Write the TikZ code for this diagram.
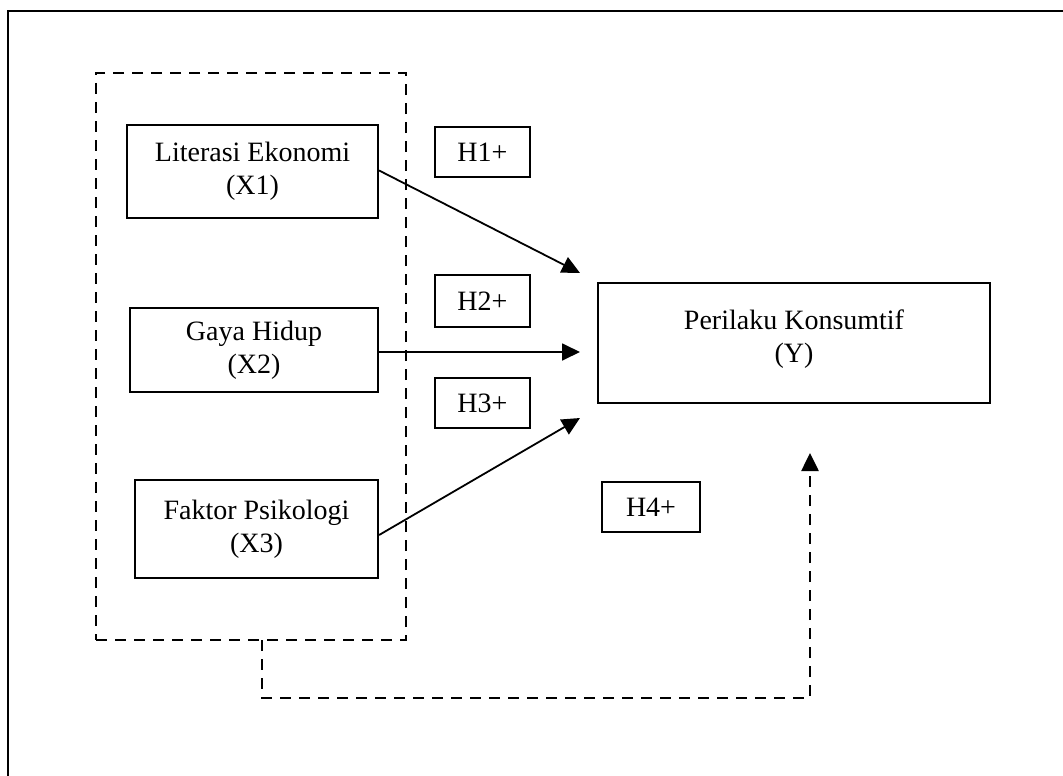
\documentclass[tikz,border=0pt]{standalone}
\usepackage{fontspec}
\setmainfont{Liberation Serif}
\usetikzlibrary{arrows.meta,calc}
\begin{document}
\begin{tikzpicture}[x=1pt,y=-1pt,
  box/.style={draw,line width=2.2pt,align=center,inner sep=0pt,font=\fontsize{28}{33}\selectfont},
  hbox/.style={draw,line width=2pt,inner sep=0pt,font=\fontsize{28}{33}\selectfont},
  grpbox/.style={draw,line width=2.6pt,dash pattern=on 11pt off 8pt,inner sep=0pt},
  conn/.style={line width=1.8pt,-{Triangle[length=18pt,width=17pt]}},
  dconn/.style={line width=2.6pt,dash pattern=on 11pt off 8pt,-{Triangle[length=18pt,width=17pt]}}]
\useasboundingbox (0,0) rectangle (1063,776);
% outer frame (partial)
\draw[line width=2.6pt] (8,776) -- (8,11) -- (1063,11);
% dashed group
\node[grpbox,minimum width=310pt,minimum height=567pt] (grp) at (251,356.5) {};
% variable boxes
\node[box,minimum width=251pt,minimum height=93pt] (x1) at (252.5,171.5) {Literasi Ekonomi\\(X1)};
\node[box,minimum width=248pt,minimum height=84pt] (x2) at (254,350) {Gaya Hidup\\(X2)};
\node[box,minimum width=243pt,minimum height=98pt] (x3) at (256.5,529) {Faktor Psikologi\\(X3)};
\node[box,minimum width=392pt,minimum height=120pt,text depth=14pt] (y) at (794,343) {Perilaku Konsumtif\\(Y)};
% hypothesis labels
\node[hbox,minimum width=95pt,minimum height=50pt] (h1) at (482.5,152) {H1+};
\node[hbox,minimum width=95pt,minimum height=52pt] (h2) at (482.5,301) {H2+};
\node[hbox,minimum width=95pt,minimum height=50pt] (h3) at (482.5,403) {H3+};
\node[hbox,minimum width=98pt,minimum height=50pt] (h4) at (651,507) {H4+};
% arrow end points
\coordinate (a1) at (580,273);
\coordinate (a2) at (580,352);
\coordinate (a3) at (580,418);
\coordinate (a4) at (810,453);
\coordinate (d0) at (262,640);
\coordinate (d1) at (262,698);
% connectors
\draw[conn] ($(x1.east)+(0,-1)$) -- (a1);
\draw[conn] (x2.east |- a2) -- (a2);
\draw[conn] ($(x3.east)+(0,6)$) -- (a3);
\draw[dconn] (d0) -- (d1) -| (a4);
\end{tikzpicture}
\end{document}
